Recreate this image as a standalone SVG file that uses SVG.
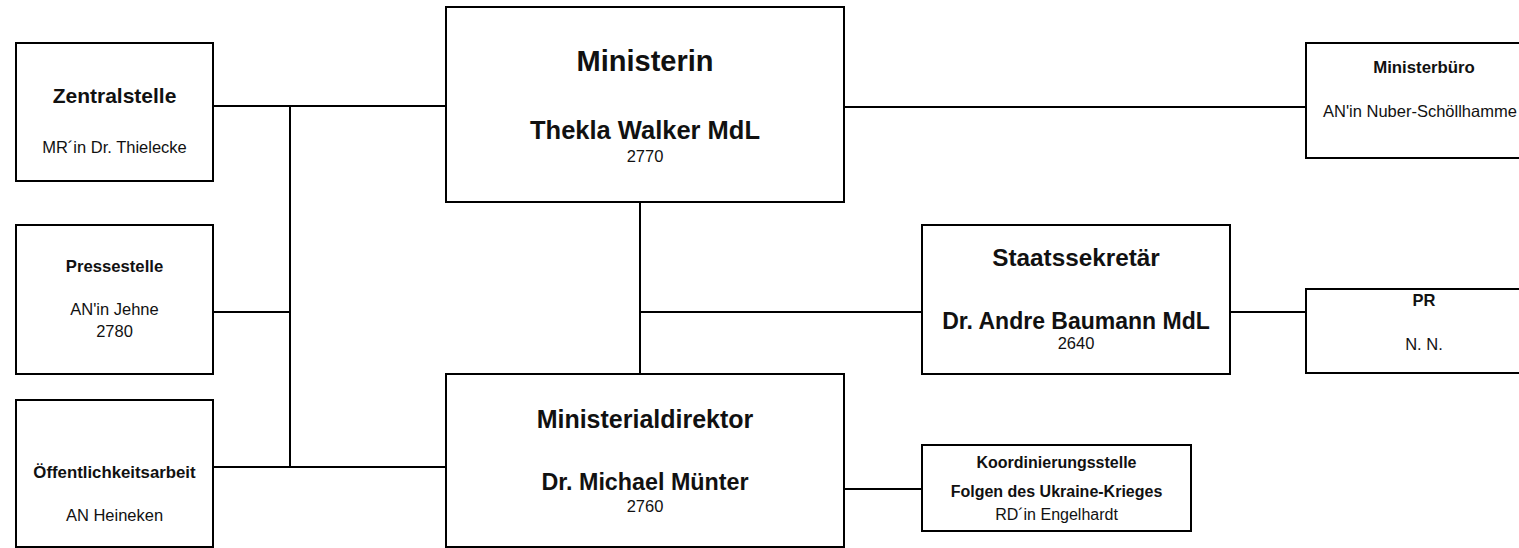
<svg xmlns="http://www.w3.org/2000/svg" width="1519" height="548" viewBox="0 0 1519 548">
<style>
.box{fill:#fff;stroke:#000;stroke-width:2}
.ln{stroke:#000;stroke-width:2;fill:none}
text{font-family:"Liberation Sans",Arial,sans-serif;fill:#111;text-anchor:middle}
.b{font-weight:bold}
</style>
<rect width="1519" height="548" fill="#fff"/>
<g id="connectors">
<line class="ln" x1="213" y1="106" x2="446" y2="106"/>
<line class="ln" x1="290" y1="106" x2="290" y2="467"/>
<line class="ln" x1="213" y1="312" x2="290" y2="312"/>
<line class="ln" x1="213" y1="467" x2="446" y2="467"/>
<line class="ln" x1="844" y1="107" x2="1306" y2="107"/>
<line class="ln" x1="640" y1="202" x2="640" y2="374"/>
<line class="ln" x1="640" y1="312" x2="922" y2="312"/>
<line class="ln" x1="1230" y1="312" x2="1306" y2="312"/>
<line class="ln" x1="844" y1="489" x2="922" y2="489"/>
</g>
<g id="zentralstelle">
<rect class="box" x="16" y="43" width="197" height="138"/>
<text class="b" x="114.5" y="103" font-size="21">Zentralstelle</text>
<text x="114.5" y="153" font-size="16.5">MR´in Dr. Thielecke</text>
</g>
<g id="pressestelle">
<rect class="box" x="16" y="225" width="197" height="149"/>
<text class="b" x="114.5" y="272" font-size="16.7">Pressestelle</text>
<text x="114.5" y="315" font-size="16.5">AN'in Jehne</text>
<text x="114.5" y="337" font-size="16.5">2780</text>
</g>
<g id="oeffentlichkeitsarbeit">
<rect class="box" x="16" y="400" width="197" height="147"/>
<text class="b" x="114.5" y="478" font-size="16.8">Öffentlichkeitsarbeit</text>
<text x="114.5" y="521" font-size="16.5">AN Heineken</text>
</g>
<g id="ministerin">
<rect class="box" x="446" y="7" width="398" height="195"/>
<text class="b" x="645" y="71" font-size="29">Ministerin</text>
<text class="b" x="645" y="139" font-size="25.5">Thekla Walker MdL</text>
<text x="645" y="162" font-size="16.5">2770</text>
</g>
<g id="ministerialdirektor">
<rect class="box" x="446" y="374" width="398" height="173"/>
<text class="b" x="645" y="428" font-size="25">Ministerialdirektor</text>
<text class="b" x="645" y="490" font-size="23.3">Dr. Michael Münter</text>
<text x="645" y="512" font-size="16.5">2760</text>
</g>
<g id="staatssekretaer">
<rect class="box" x="922" y="225" width="308" height="149"/>
<text class="b" x="1076" y="266" font-size="24.3">Staatssekretär</text>
<text class="b" x="1076" y="329" font-size="23">Dr. Andre Baumann MdL</text>
<text x="1076" y="349" font-size="16.5">2640</text>
</g>
<g id="koordinierungsstelle">
<rect class="box" x="922" y="445" width="269" height="86"/>
<text class="b" x="1056.5" y="468" font-size="16">Koordinierungsstelle</text>
<text class="b" x="1056.5" y="497" font-size="16">Folgen des Ukraine-Krieges</text>
<text x="1056.5" y="520" font-size="16">RD´in Engelhardt</text>
</g>
<g id="ministerbuero">
<rect class="box" x="1306" y="43" width="240" height="115"/>
<text class="b" x="1424" y="73" font-size="16.8">Ministerbüro</text>
<text x="1323" y="117" font-size="16.5" style="text-anchor:start">AN'in Nuber-Schöllhamme</text>
</g>
<g id="pr">
<rect class="box" x="1306" y="289" width="240" height="84"/>
<text class="b" x="1424" y="306" font-size="16.5">PR</text>
<text x="1424" y="350" font-size="16.5">N. N.</text>
</g>
</svg>
